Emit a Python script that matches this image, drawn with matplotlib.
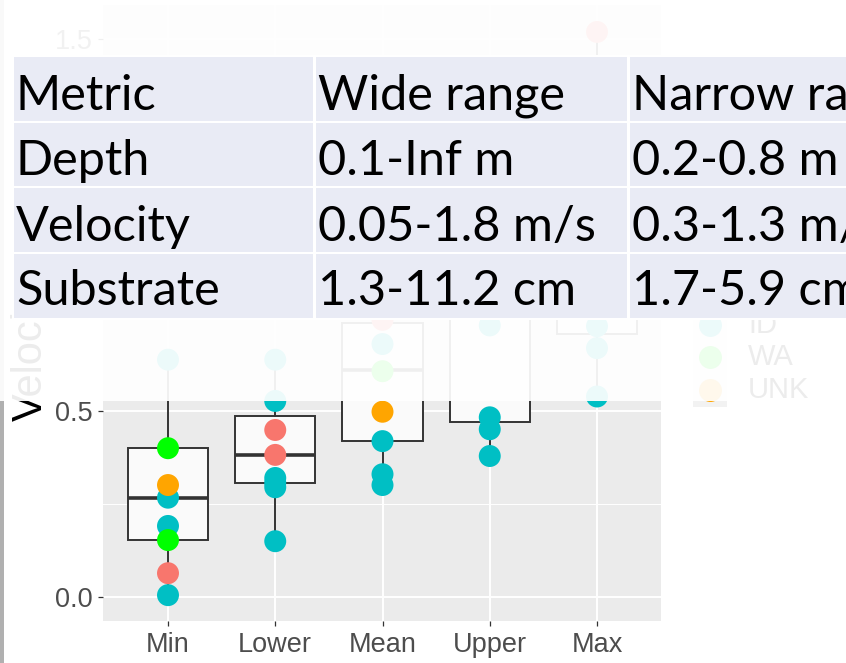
import matplotlib
matplotlib.use("Agg")
import matplotlib.pyplot as plt
from matplotlib.patches import Rectangle

# ---- Data ----
categories = ["Min", "Lower", "Mean", "Upper", "Max"]

# per-site values, one list per summary statistic (value, state)
min_vals   = [0.005, 0.191, 0.267, 0.638, 0.064, 0.153, 0.400, 0.301, 1.05]
min_states = ["ID", "ID", "ID", "ID", "OR", "WA", "WA", "UNK", "OR"]

lower_vals   = [0.150, 0.295, 0.307, 0.320, 0.527, 0.638, 0.382, 0.449, 0.92]
lower_states = ["ID", "ID", "ID", "ID", "ID", "ID", "OR", "OR", "WA"]

mean_vals   = [0.301, 0.330, 0.419, 0.680, 0.745, 0.607, 0.498, 0.80, 0.86]
mean_states = ["ID", "ID", "ID", "ID", "OR", "WA", "UNK", "ID", "OR"]

upper_vals   = [0.379, 0.451, 0.483, 0.730, 0.80, 0.98, 1.10, 1.25]
upper_states = ["ID", "ID", "ID", "ID", "WA", "OR", "UNK", "OR"]

max_vals   = [0.539, 0.669, 0.728, 0.95, 1.15, 1.30, 1.519]
max_states = ["ID", "ID", "ID", "WA", "UNK", "ID", "OR"]

# box summaries (lower whisker, q1, median, q3, upper whisker)
whislo = [0.005, 0.150, 0.301, 0.379, 0.539]
q1     = [0.153, 0.307, 0.419, 0.471, 0.708]
med    = [0.267, 0.382, 0.609, 0.800, 0.950]
q3     = [0.400, 0.487, 0.737, 0.980, 1.150]
whishi = [0.638, 0.638, 0.860, 1.250, 1.519]

states = ["OR", "ID", "WA", "UNK"]
state_colors = {"OR": "#F8766D", "ID": "#00BFC4", "WA": "#00FF00", "UNK": "#FFA500"}

# summary table drawn on top
table_header = ["Metric", "Wide range", "Narrow range"]
table_metric = ["Depth", "Velocity", "Substrate"]
table_wide   = ["0.1-Inf m", "0.05-1.8 m/s", "1.3-11.2 cm"]
table_narrow = ["0.2-0.8 m", "0.3-1.3 m/s", "1.7-5.9 cm"]

W, H = 846, 663
fig = plt.figure(figsize=(W / 100, H / 100), dpi=100)
fig.patch.set_facecolor("white")


def fx(x):
    return x / W


def fy(y):
    return 1 - y / H


# ---- ggplot-like panel ----
ax_l, ax_r, ax_t, ax_b = 103, 661, 5, 621
ax = fig.add_axes([fx(ax_l), fy(ax_b), fx(ax_r - ax_l), (ax_b - ax_t) / H])
ax.set_facecolor("#EBEBEB")
for s in ax.spines.values():
    s.set_visible(False)

stats = []
for i in range(len(categories)):
    stats.append(dict(whislo=whislo[i], q1=q1[i], med=med[i], q3=q3[i],
                      whishi=whishi[i], fliers=[]))
ax.bxp(stats, positions=range(1, len(categories) + 1), widths=0.75,
       patch_artist=True, showfliers=False, showcaps=False, manage_ticks=False,
       boxprops=dict(facecolor="#FAFAFA", edgecolor="#333333", linewidth=1.4),
       medianprops=dict(color="#333333", linewidth=2.6),
       whiskerprops=dict(color="#333333", linewidth=1.4),
       zorder=2)

groups = [(min_vals, min_states), (lower_vals, lower_states),
          (mean_vals, mean_states), (upper_vals, upper_states),
          (max_vals, max_states)]
for i, (vals, sts) in enumerate(groups):
    for v, st in zip(vals, sts):
        ax.scatter(i + 1, v, s=250, color=state_colors[st], edgecolors="none",
                   zorder=3, clip_on=False)

y0_px, px_per_unit = 597, 372
ax.set_ylim((y0_px - ax_b) / px_per_unit, (y0_px - ax_t) / px_per_unit)
x_unit = 107.25
ax.set_xlim(1 - (168 - ax_l) / x_unit, 1 + (ax_r - 168) / x_unit)

ax.set_yticks([0.0, 0.5, 1.0, 1.5])
ax.set_yticklabels(["0.0", "0.5", "1.0", "1.5"])
ax.set_yticks([0.25, 0.75, 1.25], minor=True)
ax.set_xticks(range(1, len(categories) + 1))
ax.set_xticklabels(categories)
ax.grid(which="major", color="white", linewidth=1.4)
ax.grid(which="minor", axis="y", color="white", linewidth=0.7)
ax.set_axisbelow(True)
ax.tick_params(which="major", length=3.6, width=0.9, color="#333333",
               labelcolor="#4D4D4D", labelsize=19.5, pad=4)
ax.tick_params(which="minor", length=0)
for lab in ax.get_xticklabels() + ax.get_yticklabels():
    lab.set_family("Liberation Sans")

# y axis title
fig.text(fx(31), fy(421), "Velocity", rotation=90, ha="center", va="bottom",
         fontsize=30, color="black", family="Liberation Sans", zorder=3)

# legend keys to the right of the panel
key_x0, key_size = 693, 34
for j, st in enumerate(states):
    cy = 292 + j * 32.7
    fig.add_artist(Rectangle((fx(key_x0), fy(cy + key_size / 2)), key_size / W,
                             key_size / H, transform=fig.transFigure,
                             facecolor="#F2F2F2", edgecolor="none", zorder=2))
    fig.add_artist(plt.Line2D([fx(key_x0 + key_size / 2)], [fy(cy)], marker="o",
                              markersize=15.5, color=state_colors[st],
                              linestyle="none", transform=fig.transFigure,
                              zorder=3))
    fig.text(fx(748), fy(cy), st, ha="left", va="center", fontsize=21,
             color="black", family="Liberation Sans", zorder=3)

# left edge strip
fig.add_artist(Rectangle((0, 0), fx(4), 1, transform=fig.transFigure,
                         facecolor="#B0B0B0", edgecolor="none", zorder=1))

# white wash over the upper part
fig.add_artist(Rectangle((0, fy(401)), 1, 401 / H, transform=fig.transFigure,
                         facecolor="white", edgecolor="none", alpha=0.93,
                         zorder=10))

# ---- table ----
col_edges = [(14, 313), (316, 627), (630, 900)]
row_edges = [(57, 121), (123, 186), (188, 252), (254, 318)]
baselines = [110, 175, 240.5, 305.5]
fig.add_artist(Rectangle((fx(12), fy(320)), fx(W - 12), 265 / H,
                         transform=fig.transFigure, facecolor="white",
                         edgecolor="none", zorder=20))
rows = [table_header] + [[m, w, n] for m, w, n in
                         zip(table_metric, table_wide, table_narrow)]
for r, (top, bot) in enumerate(row_edges):
    for c, (left, right) in enumerate(col_edges):
        fig.add_artist(Rectangle((fx(left), fy(bot)), fx(right - left),
                                 (bot - top) / H, transform=fig.transFigure,
                                 facecolor="#E9EBF5", edgecolor="none",
                                 zorder=21))
        fig.text(fx(left + 2), fy(baselines[r]), rows[r][c], ha="left",
                 va="baseline", fontsize=35, color="black", family="Lato",
                 zorder=22)

fig.savefig("out.png", dpi=100)
